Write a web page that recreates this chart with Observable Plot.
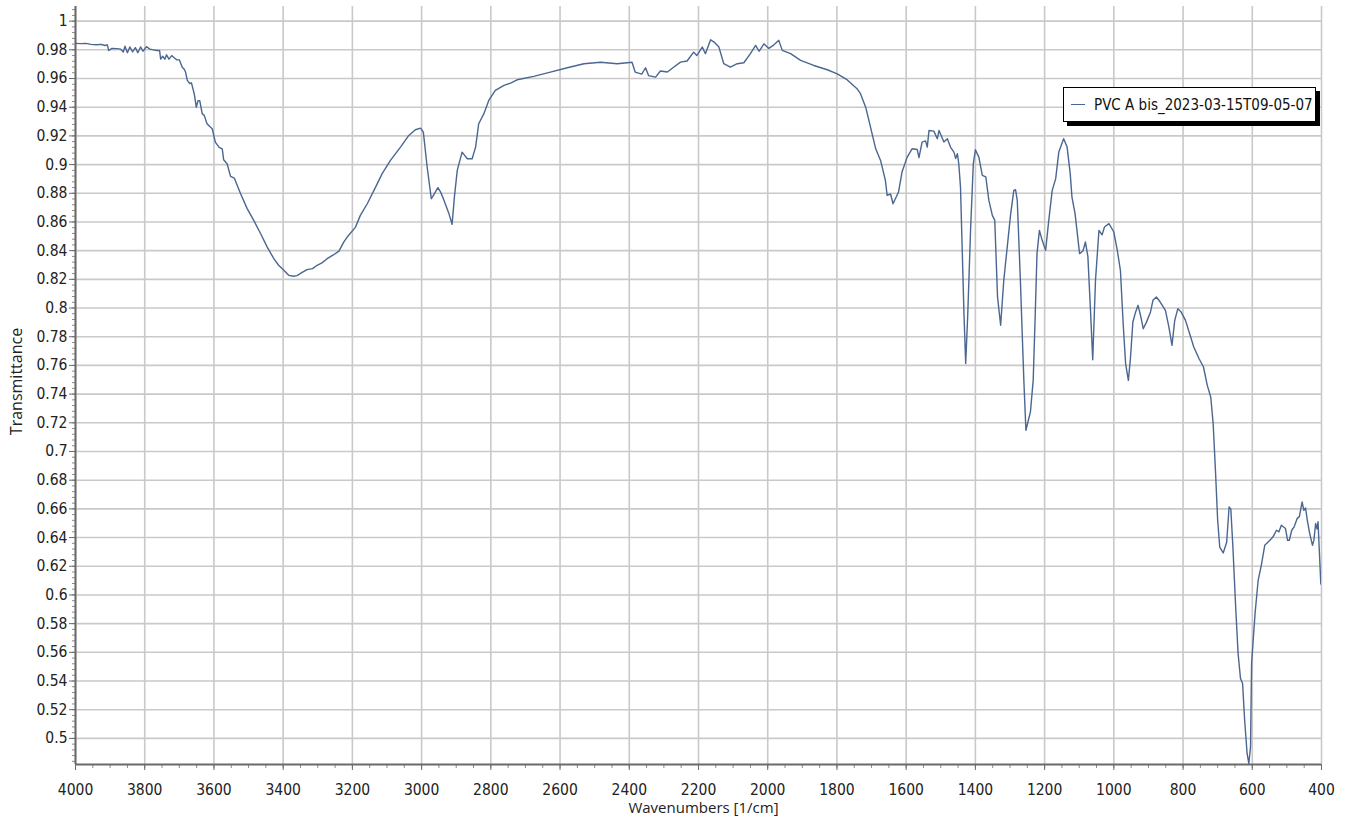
<!DOCTYPE html>
<html>
<head>
<meta charset="utf-8">
<script src="https://cdn.jsdelivr.net/npm/d3@7"></script>
<script src="https://cdn.jsdelivr.net/npm/@observablehq/plot@0.6"></script>
<style>
  html, body { margin: 0; padding: 0; background: #fff; }
  #wrap { position: relative; width: 1353px; height: 825px; }
  #legend {
    position: absolute; left: 1063px; top: 87px; width: 253px; height: 35px;
    border: 1.5px solid #000; background: #fff; box-shadow: 4px 4px 0 #000;
    font-family: "DejaVu Sans Condensed", "DejaVu Sans", sans-serif; font-size: 15px; color: #111;
    display: flex; align-items: center; box-sizing: border-box;
  }
  #legend .sw { width: 14px; height: 0; border-top: 1.5px solid #4b6690; margin: 0 9px 0 7px; }
</style>
</head>
<body>
<div id="wrap"><div id="chart"></div><div id="legend"><span class="sw"></span><span id="legtext"></span></div></div>
<script>
const seriesName = "PVC A bis_2023-03-15T09-05-07";
const xLabel = "Wavenumbers [1/cm]";
const yLabel = "Transmittance";

const wavenumber = [
4000,3985,3970,3955,3940,3925,3915,3908,3904,3895,3880,3870,3862,3857,3850,3843,3835,3827,3820,3812,3805,3795,3785,3775,3765,3757,3754,3748,3742,3737,3730,3722,3715,3707,3700,
3692,3686,3682,3677,3670,3665,3657,3651,3646,3641,3634,3628,3620,3612,3605,3596,3585,3576,3572,3562,3552,3541,3523,3504,3485,3465,3446,3427,3413,3398,3384,3370,3360,3345,3331,3315,3302,3288,3273,3255,3239,3225,3215,3191,3177,3157,3133,3114,3090,3061,3037,3018,3003,2995,2984,2972,2968,2953,2945,2936,2921,2912,2905,2897,2883,2868,2854,2844,2835,2820,2806,2787,2762,2743,2724,2676,2628,2579,2531,2483,2435,2392,2383,2364,2353,2344,2324,2310,2290,2271,2252,2233,2214,2205,2189,2180,2165,2155,2141,2127,2108,2088,2069,2050,2035,2025,2011,1997,1982,1968,1958,1934,1905,1867,1828,1799,1771,1742,1732,1717,1703,1688,1674,1660,1655,1645,1638,1622,1612,1597,1583,1568,1563,1554,1544,1539,1534,1520,1510,1505,1491,1481,1472,1462,1457,1452,1448,1443,1433,1428,1422,1414,1406,1400,1390,1380,1370,1361,1351,1344,1336,1327,1318,1308,1298,1289,1284,1279,1270,1260,1254,1241,1233,1227,1222,1215,1207,1197,1188,1178,1168,1159,1145,1135,1126,1121,1112,1099,1089,1082,1075,1067,1061,1053,1043,1034,1027,1014,1000,990,981,973,966,958,952,945,937,930,923,915,906,894,887,877,866,851,841,832,824,815,805,793,778,769,754,741,730,720,713,706,700,694,684,674,667,662,656,648,641,634,628,622,615,610,605,602,592,583,573,564,549,540,530,523,516,504,498,493,486,479,470,464,456,451,446,441,434,426,422,417,413,410,408,402,400
];
const transmittance = [
0.9845,0.9843,0.9845,0.9838,0.9835,0.9838,0.983,0.9835,0.9795,0.981,0.9808,0.9805,0.9785,0.9825,0.978,0.982,0.9785,0.9815,0.978,0.982,0.979,0.9822,0.9805,0.980,0.9795,0.9795,0.9735,0.9755,0.9735,0.9765,0.9735,0.976,0.9745,0.973,0.973,
0.968,0.9665,0.9645,0.9587,0.9565,0.957,0.9494,0.940,0.9446,0.9445,0.9355,0.9343,0.9285,0.9265,0.925,0.9157,0.912,0.911,0.9034,0.9006,0.8918,0.8905,0.8797,0.8693,0.8611,0.8518,0.8425,0.8344,0.8298,0.8263,0.8228,0.8222,0.8226,0.8248,0.8268,0.8275,0.8298,0.8315,0.8344,0.837,0.8397,0.846,0.8495,0.8564,0.8646,0.8727,0.8843,0.8937,0.9029,0.9122,0.9203,0.9243,0.9254,0.9226,0.8983,0.8762,0.8776,0.8839,0.8808,0.8755,0.8658,0.8583,0.878,0.896,0.9087,0.9041,0.9041,0.9122,0.9285,0.9355,0.9447,0.9517,0.9552,0.9568,0.9591,0.9615,0.9645,0.9675,0.9703,0.9713,0.9703,0.9713,0.9645,0.9631,0.9675,0.962,0.961,0.9652,0.9645,0.968,0.9714,0.9722,0.9784,0.976,0.9819,0.9773,0.987,0.9854,0.9819,0.9703,0.968,0.9703,0.971,0.9773,0.9831,0.979,0.9842,0.981,0.9835,0.9866,0.9796,0.9773,0.9726,0.9691,0.9661,0.9633,0.9592,0.9529,0.9494,0.940,0.9261,0.911,0.9029,0.889,0.8785,0.8795,0.8727,0.8809,0.8948,0.9052,0.911,0.9105,0.9048,0.9157,0.9165,0.9122,0.9238,0.9233,0.918,0.9238,0.9157,0.918,0.9122,0.9087,0.9043,0.9076,0.9006,0.8843,0.7961,0.7613,0.796,0.8541,0.9006,0.9103,0.9052,0.8925,0.8915,0.875,0.8646,0.8611,0.8077,0.788,0.8193,0.8425,0.8658,0.882,0.8825,0.875,0.8193,0.7496,0.7148,0.7276,0.7496,0.7961,0.8379,0.8541,0.8472,0.8402,0.8611,0.882,0.8902,0.9087,0.918,0.9122,0.8937,0.8774,0.8658,0.8379,0.84,0.846,0.836,0.7961,0.764,0.8193,0.8541,0.851,0.8565,0.8588,0.853,0.8402,0.8263,0.7891,0.7613,0.7496,0.765,0.7903,0.7973,0.8019,0.795,0.7856,0.79,0.7973,0.8054,0.8077,0.8042,0.7984,0.7868,0.774,0.7914,0.7996,0.797,0.7914,0.7798,0.7728,0.7648,0.7589,0.7461,0.738,0.7194,0.6846,0.6521,0.6334,0.6293,0.6367,0.6613,0.66,0.6334,0.5916,0.5592,0.5417,0.5383,0.5127,0.4895,0.4825,0.4941,0.5522,0.587,0.6102,0.6219,0.6346,0.6381,0.6405,0.6451,0.644,0.6486,0.6463,0.6381,0.6381,0.6451,0.6475,0.6534,0.6546,0.6648,0.659,0.6606,0.652,0.6428,0.6346,0.638,0.6498,0.646,0.651,0.640,0.608,0.607
];

const xMajorTicks = d3.range(4000, 399, -200);
const xMinorTicks = d3.range(4000, 399, -50);
const yMajorTicks = d3.range(25, 51).map(i => i / 50);
const yMinorTicks = d3.range(121, 253).map(i => i / 250);

const data = wavenumber.map((w, i) => ({w, t: transmittance[i]}));
const yDomain = [0.4818, 1.0102];
const axisColor = "#6a6a6a";
const gridColor = "#c9c9c9";
const lineColor = "#4b6690";
const tickFont = "DejaVu Sans Condensed, DejaVu Sans, sans-serif";

const chart = Plot.plot({
  width: 1353,
  height: 825,
  marginLeft: 75,
  marginRight: 32,
  marginTop: 6,
  marginBottom: 61,
  style: {fontFamily: tickFont, fontSize: "15.5px", color: "#222", background: "#fff"},
  x: {domain: [4000, 400]},
  y: {domain: yDomain},
  marks: [
    Plot.gridX(xMajorTicks, {stroke: gridColor, strokeOpacity: 1, strokeWidth: 1.6}),
    Plot.gridY(yMajorTicks, {stroke: gridColor, strokeOpacity: 1, strokeWidth: 1.6}),
    Plot.axisX(xMinorTicks, {tickSize: 4, text: null, stroke: "#8a8a8a", label: null}),
    Plot.axisX(xMajorTicks, {tickSize: 6, tickPadding: 13, stroke: "#6a6a6a", tickFormat: d => String(d), label: null, fill: "#222"}),
    Plot.axisY(yMinorTicks, {tickSize: 3, text: null, stroke: "#8a8a8a", label: null}),
    Plot.axisY(yMajorTicks, {tickSize: 6, tickPadding: 2, stroke: "#6a6a6a", tickFormat: d => String(+d.toFixed(2)), label: null, fill: "#222"}),
    Plot.ruleX([4000], {stroke: axisColor, strokeWidth: 2}),
    Plot.ruleY([yDomain[0]], {stroke: axisColor, strokeWidth: 2}),
    Plot.line(data, {x: "w", y: "t", stroke: lineColor, strokeWidth: 1.4, clip: true}),
    Plot.text([xLabel], {frameAnchor: "bottom", textAnchor: "middle", dx: 5, dy: 48, fontFamily: "Open Sans, sans-serif", fontSize: 15, fill: "#222"}),
    Plot.text([yLabel], {frameAnchor: "left", textAnchor: "middle", dx: -59, dy: -4, rotate: -90, fontFamily: "Open Sans, sans-serif", fontSize: 16, fill: "#222", style: "letter-spacing: 1.4px"})
  ]
});
document.getElementById("chart").appendChild(chart);
document.getElementById("legtext").textContent = seriesName;
</script>
</body>
</html>
